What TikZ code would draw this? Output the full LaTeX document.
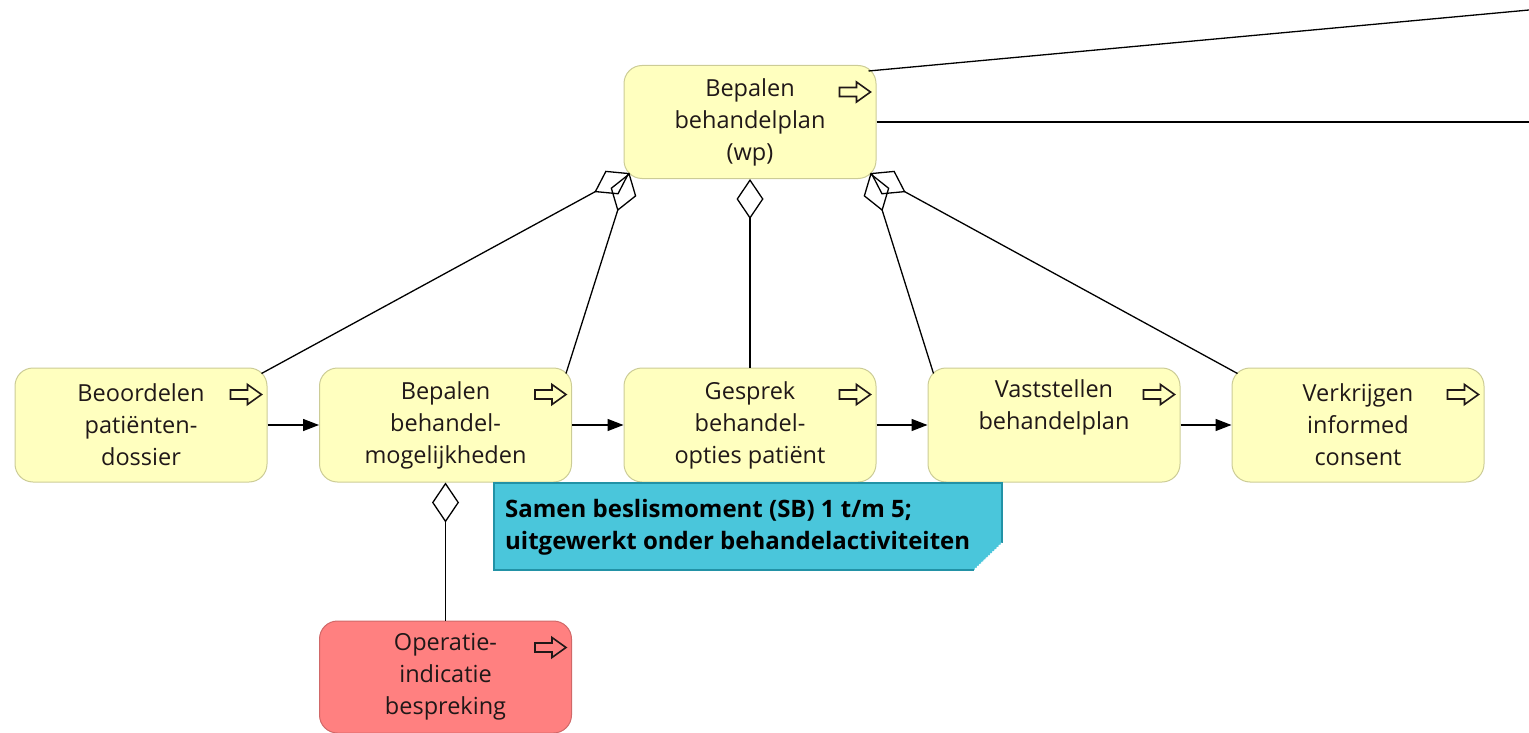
\documentclass[tikz,border=0pt]{standalone}
\usepackage{fontspec}
\setmainfont{Open Sans}
\usetikzlibrary{arrows.meta}

\definecolor{taskfill}{RGB}{255,255,191}
\definecolor{taskline}{RGB}{204,204,150}
\definecolor{hotfill}{RGB}{255,128,128}
\definecolor{hotline}{RGB}{208,104,104}
\definecolor{notefill}{RGB}{74,198,219}
\definecolor{noteline}{RGB}{34,146,166}
\definecolor{inktext}{RGB}{32,24,24}

\tikzset{
  task/.style={draw=taskline, fill=taskfill, line width=1pt, rounded corners=18pt,
    minimum width=252pt, minimum height=114pt, inner sep=0pt, align=center,
    text=inktext, font=\fontsize{23.5}{32}\selectfont},
  hottask/.style={task, draw=hotline, fill=hotfill},
  seqflow/.style={line width=1.4pt, -{Triangle[length=16pt,width=12pt]}},
  partof/.style={line width=1.3pt, -{Diamond[open,length=40pt,width=27pt,line width=1.3pt]}},
  plainlink/.style={line width=1.3pt},
  notetext/.style={inner sep=0pt, align=left, text=black,
    font=\fontsize{24}{32}\selectfont\bfseries},
  pics/flowicon/.style={code={
    \draw[line width=1.6pt, line join=miter, draw=inktext]
      (0,0) -- (-14,-10) -- (-14,-4.5) -- (-31,-4.5) -- (-31,4.5)
      -- (-14,4.5) -- (-14,10) -- cycle;}}
}

\begin{document}
\begin{tikzpicture}[x=1pt,y=-1pt]
\useasboundingbox (0,0) rectangle (1529,733);

% activity boxes
\node[task, minimum height=113pt] (top) at (750,122) {Bepalen\\behandelplan\\(wp)};
\node[task] (n1) at (141,425) {Beoordelen\\patiënten-\\dossier};
\node[task] (n2) at (445.5,425) {Bepalen\\behandel-\\mogelijkheden};
\node[task] (n3) at (750,425) {Gesprek\\behandel-\\opties patiënt};
\node[task] (n4) at (1054,425) {Vaststellen\\behandelplan\\\strut};
\node[task] (n5) at (1358,425) {Verkrijgen\\informed\\consent};
\node[hottask, minimum height=112pt] (op) at (445.5,677) {Operatie-\\indicatie\\bespreking};

% process icons in the upper right corner of each box
\foreach \n in {top,n1,n2,n3,n4,n5,op}
  \pic at ([shift={(-6,27)}]\n.north east) {flowicon};

% sequence flow
\draw[seqflow] (n1) -- (n2);
\draw[seqflow] (n2) -- (n3);
\draw[seqflow] (n3) -- (n4);
\draw[seqflow] (n4) -- (n5);

% composition links towards the parent activity
\coordinate (pl) at ([shift={(6,-6)}]top.south west);
\coordinate (pr) at ([shift={(-6,-6)}]top.south east);
\draw[partof] ([shift={(-6,6)}]n1.north east) -- (pl);
\draw[partof] ([shift={(-6,6)}]n2.north east) -- (pl);
\draw[partof] (n3) -- (top);
\draw[partof] ([shift={(6,6)}]n4.north west) -- (pr);
\draw[partof] ([shift={(6,6)}]n5.north west) -- (pr);
\draw[partof] (op) -- (n2);

% links leaving to the right
\coordinate (out1) at (1529,10);
\coordinate (out2) at (1529,122);
\draw[plainlink] ([shift={(-8,6)}]top.north east) -- (out1);
\draw[plainlink] (top.east) -- (out2);

% annotation with folded corner
\fill[notefill] (494,483) -- (1002,483) -- (1002,543) -- (974,570) -- (494,570) -- cycle;
\draw[noteline, line width=1.2pt] (1002,543) -- (1002,483) -- (494,483) -- (494,570) -- (974,570);
\draw[white, line width=1pt, dash pattern=on 1.5pt off 1.5pt] (1002,543) -- (974,570);
\node[notetext, anchor=north west] (note) at (505,499)
  {Samen beslismoment (SB) 1 t/m 5;\\uitgewerkt onder behandelactiviteiten};
\end{tikzpicture}
\end{document}
